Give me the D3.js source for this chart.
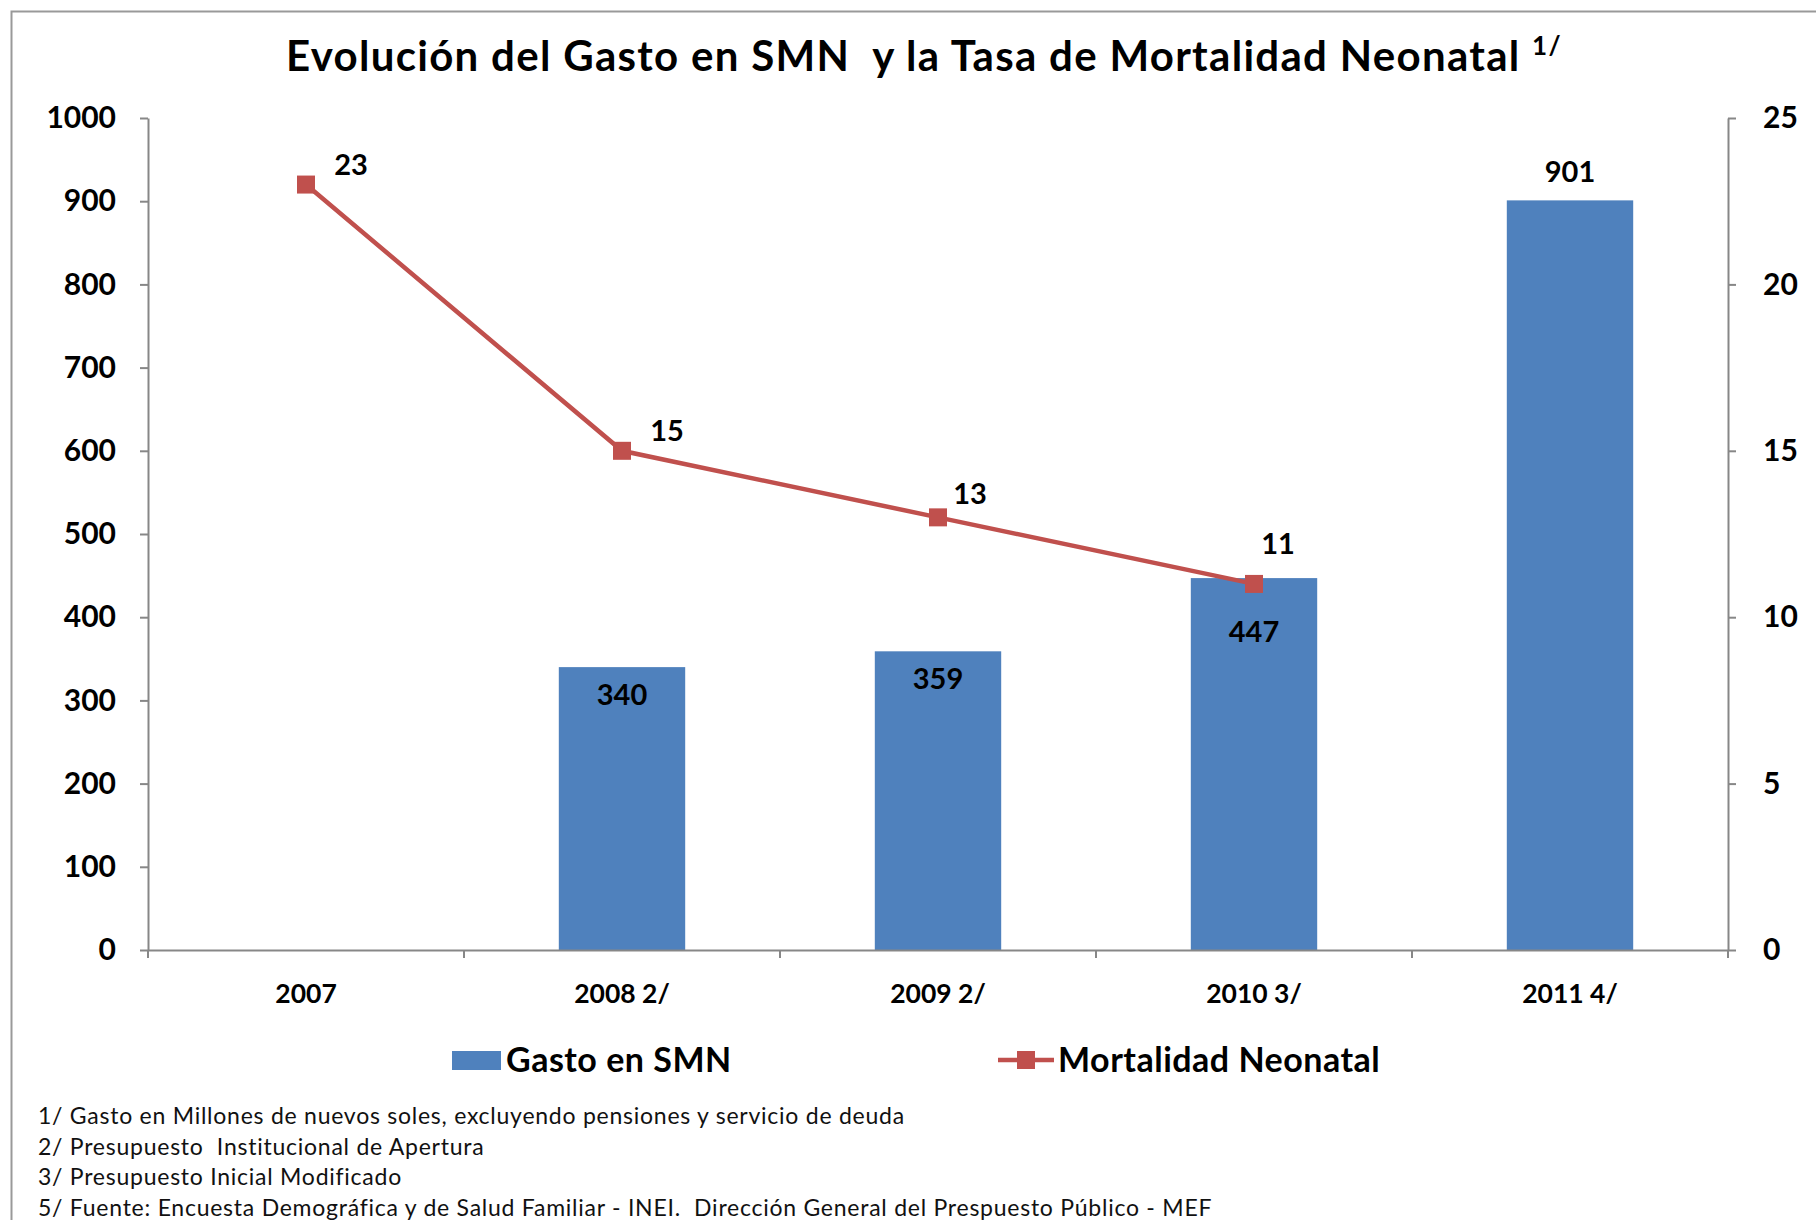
<!DOCTYPE html>
<html>
<head>
<meta charset="utf-8">
<script src="https://cdn.jsdelivr.net/npm/d3@7"></script>
<style>
  html, body { margin: 0; padding: 0; background: #fff; }
  svg { display: block; font-family: Lato, "Open Sans", sans-serif; }
  text { white-space: pre; }
</style>
</head>
<body>
<svg></svg>
<script>
// datos del grafico
const categories = ['2007', '2008 2/', '2009 2/', '2010 3/', '2011 4/']
const gasto = [null, 340, 359, 447, 901]
const mortalidad = [23, 15, 13, 11, null]
const leftTicks = [0, 100, 200, 300, 400, 500, 600, 700, 800, 900, 1000]
const rightTicks = [0, 5, 10, 15, 20, 25]
const notas = [
  '1/ Gasto en Millones de nuevos soles, excluyendo pensiones y servicio de deuda',
  '2/ Presupuesto  Institucional de Apertura',
  '3/ Presupuesto Inicial Modificado',
  '5/ Fuente: Encuesta Demográfica y de Salud Familiar - INEI.  Dirección General del Prespuesto Público - MEF'
]

const width = 1816
const height = 1220
const marge = {top: 118, bottom: 270, left: 148, right: 88}
const azul = '#4f81bd'
const rojo = '#c0504d'
const gris = '#878787'

const svg = d3.select('svg').attr('width', width).attr('height', height)

// marco
svg.append('rect').attr('x', 11.5).attr('y', 11.5)
  .attr('width', width + 20).attr('height', height + 20)
  .attr('fill', 'none').attr('stroke', '#999').attr('stroke-width', 2)

// titulo
const title = svg.append('text').attr('x', 286).attr('y', 71)
  .attr('font-size', 42).attr('font-weight', 700).attr('letter-spacing', 1.3)
title.append('tspan').text('Evolución del Gasto en SMN  y la Tasa de Mortalidad Neonatal ')
title.append('tspan').attr('font-size', 26).attr('dy', -16).text('1/')

const x = d3.scaleBand().domain(categories).range([marge.left, width - marge.right])
const yL = d3.scaleLinear().domain([0, 1000]).range([height - marge.bottom, marge.top])
const yR = d3.scaleLinear().domain([0, 25]).range([height - marge.bottom, marge.top])

const g = svg.append('g')

// barras
const barW = x.bandwidth() * 0.4
const barData = categories.map((c, i) => ({c, v: gasto[i], i})).filter(d => d.v != null)
g.append('g').selectAll('rect').data(barData).enter().append('rect')
  .attr('x', d => x(d.c) + (x.bandwidth() - barW) / 2)
  .attr('y', d => yL(d.v))
  .attr('width', barW)
  .attr('height', d => yL(0) - yL(d.v))
  .attr('fill', azul)

// ejes
function styleAxis(sel) {
  sel.select('.domain').attr('stroke', gris).attr('stroke-width', 2)
  sel.selectAll('.tick line').attr('stroke', gris).attr('stroke-width', 2)
  sel.selectAll('.tick text').attr('fill', '#000').attr('font-weight', 700)
    .attr('font-family', 'Lato, sans-serif')
}
g.append('g').attr('transform', `translate(${marge.left},0)`)
  .call(d3.axisLeft(yL).tickValues(leftTicks).tickFormat(d3.format('d'))
    .tickSize(8).tickSizeOuter(0).tickPadding(24))
  .call(styleAxis)
  .selectAll('.tick text').attr('font-size', 30)
g.append('g').attr('transform', `translate(${width - marge.right},0)`)
  .call(d3.axisRight(yR).tickValues(rightTicks).tickSize(8).tickSizeOuter(0).tickPadding(27))
  .call(styleAxis)
  .selectAll('.tick text').attr('font-size', 30)

const xAxis = g.append('g').attr('transform', `translate(0,${yL(0)})`)
  .call(d3.axisBottom(x).tickSize(0).tickPadding(34))
  .call(styleAxis)
xAxis.selectAll('.tick text').attr('font-size', 26.5)
// marcas entre categorias
const bordes = categories.map(c => x(c)).concat([x.range()[1]])
xAxis.selectAll('.sep').data(bordes).enter().append('line')
  .attr('x1', d => d).attr('x2', d => d).attr('y1', 0).attr('y2', 8)
  .attr('stroke', gris).attr('stroke-width', 2)

// etiquetas de barras
const lineY = {}
mortalidad.forEach((v, i) => { if (v != null) lineY[categories[i]] = yR(v) })
g.append('g').selectAll('text').data(barData).enter().append('text')
  .attr('x', d => x(d.c) + x.bandwidth() / 2)
  .attr('y', d => {
    const top = yL(d.v)
    if (top < yL(850)) return top - 18
    const ly = lineY[d.c]
    if (ly != null && Math.abs(ly - top) < 30) return top + 64
    return top + 38
  })
  .attr('text-anchor', 'middle').attr('font-size', 29).attr('font-weight', 700)
  .text(d => d.v)

// linea de mortalidad
const lineData = categories.map((c, i) => ({c, v: mortalidad[i], i})).filter(d => d.v != null)
const line = d3.line().x(d => x(d.c) + x.bandwidth() / 2).y(d => yR(d.v))
g.append('path').datum(lineData).attr('d', line)
  .attr('fill', 'none').attr('stroke', rojo).attr('stroke-width', 4.5)
g.append('g').selectAll('rect').data(lineData).enter().append('rect')
  .attr('x', d => x(d.c) + x.bandwidth() / 2 - 9)
  .attr('y', d => yR(d.v) - 9)
  .attr('width', 18).attr('height', 18).attr('fill', rojo)

const lblOff = [[45, -10], [45, -10], [32, -13], [24, -30]]
g.append('g').selectAll('text').data(lineData).enter().append('text')
  .attr('x', d => x(d.c) + x.bandwidth() / 2 + lblOff[d.i][0])
  .attr('y', d => yR(d.v) + lblOff[d.i][1])
  .attr('text-anchor', 'middle').attr('font-size', 29).attr('font-weight', 700)
  .text(d => d.v)

// leyenda
const leg = svg.append('g').attr('font-size', 34).attr('font-weight', 700).attr('letter-spacing', 0.5)
leg.append('rect').attr('x', 452).attr('y', 1051).attr('width', 49).attr('height', 19).attr('fill', azul)
leg.append('text').attr('x', 506).attr('y', 1072).text('Gasto en SMN')
leg.append('line').attr('x1', 998).attr('x2', 1054).attr('y1', 1060).attr('y2', 1060)
  .attr('stroke', rojo).attr('stroke-width', 4.5)
leg.append('rect').attr('x', 1017).attr('y', 1051).attr('width', 18).attr('height', 18).attr('fill', rojo)
leg.append('text').attr('x', 1058).attr('y', 1072).text('Mortalidad Neonatal')

// notas
svg.append('g').selectAll('text').data(notas).enter().append('text')
  .attr('x', 38).attr('y', (d, i) => 1124 + i * 30.5)
  .attr('font-size', 23).attr('letter-spacing', 0.75).attr('fill', '#111')
  .text(d => d)
</script>
</body>
</html>
